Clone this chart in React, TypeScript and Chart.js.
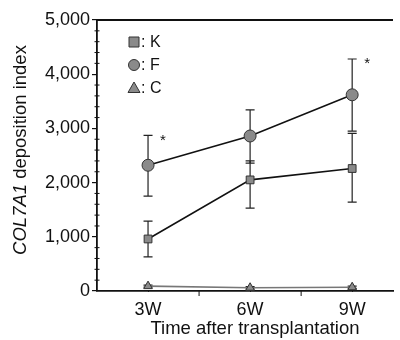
import React, { useEffect, useRef } from "react";
import { Chart, registerables } from "chart.js";

Chart.register(...registerables);

const weeks = [3, 6, 9];
const weekLabels = ["3W", "6W", "9W"];
const seriesNames = ["K", "F", "C"];
const kValues = [960, 2050, 2260];
const kUpper = [1290, 2400, 2910];
const kLower = [630, 1530, 1640];
const fValues = [2320, 2860, 3620];
const fUpper = [2870, 3340, 4280];
const fLower = [1750, 2360, 2950];
const cValues = [90, 60, 70];
const cUpper = [110, 80, 90];
const cLower = [70, 40, 50];
const significantWeeks = [3, 9];
const yTicks = [0, 1000, 2000, 3000, 4000, 5000];
const xTitle = "Time after transplantation";

const FONT = "'Liberation Sans', Arial, Helvetica, sans-serif";

export default function App() {
  const ref = useRef<HTMLCanvasElement | null>(null);
  useEffect(() => {
    if (!ref.current) return;
    const errs = [
      { up: kUpper, lo: kLower },
      { up: fUpper, lo: fLower },
      { up: cUpper, lo: cLower },
    ];
    const decor = {
      id: "decor",
      beforeDatasetsDraw(chart: any) {
        const { ctx, scales } = chart;
        const x = scales.x;
        const y = scales.y;
        ctx.save();
        ctx.strokeStyle = "#222";
        ctx.lineWidth = 1.2;
        errs.forEach((e) => {
          weeks.forEach((w, i) => {
            const px = x.getPixelForValue(w);
            const yu = y.getPixelForValue(e.up[i]);
            const yl = y.getPixelForValue(e.lo[i]);
            ctx.beginPath();
            ctx.moveTo(px, yu);
            ctx.lineTo(px, yl);
            ctx.moveTo(px - 4.5, yu);
            ctx.lineTo(px + 4.5, yu);
            ctx.moveTo(px - 4.5, yl);
            ctx.lineTo(px + 4.5, yl);
            ctx.stroke();
          });
        });
        ctx.restore();
      },
      afterDraw(chart: any) {
        const { ctx, chartArea, scales } = chart;
        const x = scales.x;
        const y = scales.y;
        ctx.save();
        ctx.strokeStyle = "#111";
        ctx.lineWidth = 1.8;
        ctx.beginPath();
        ctx.moveTo(chartArea.left, chartArea.top);
        ctx.lineTo(chartArea.right, chartArea.top);
        ctx.stroke();
        ctx.lineWidth = 1;
        for (let v = 0; v <= 5000; v += 200) {
          if (v % 1000 === 0) continue;
          const py = y.getPixelForValue(v);
          ctx.beginPath();
          ctx.moveTo(chartArea.left - 2.5, py);
          ctx.lineTo(chartArea.left + 2.5, py);
          ctx.stroke();
        }
        [4.5, 7.5].forEach((v) => {
          const px = x.getPixelForValue(v);
          ctx.beginPath();
          ctx.moveTo(px, chartArea.bottom);
          ctx.lineTo(px, chartArea.bottom + 5);
          ctx.stroke();
        });
        ctx.fillStyle = "#111";
        ctx.font = `15px ${FONT}`;
        ctx.textAlign = "center";
        ctx.textBaseline = "middle";
        significantWeeks.forEach((w) => {
          const i = weeks.indexOf(w);
          const px = x.getPixelForValue(w) + 15;
          const py = y.getPixelForValue(fUpper[i]) + 5;
          ctx.fillText("*", px, py);
        });
        // x title
        ctx.font = `18.5px ${FONT}`;
        ctx.fillText(xTitle, 255, 329);
        const styles = ["rect", "circle", "triangle"];
        ctx.font = `16px ${FONT}`;
        ctx.textAlign = "left";
        seriesNames.forEach((name, i) => {
          const mx = chartArea.left + 37;
          const my = chartArea.top + 22 + i * 23;
          ctx.fillStyle = "#8a8a8a";
          ctx.strokeStyle = "#333";
          ctx.lineWidth = 1;
          ctx.beginPath();
          if (styles[i] === "rect") {
            ctx.rect(mx - 5, my - 5, 10, 10);
          } else if (styles[i] === "circle") {
            ctx.arc(mx, my, 5.5, 0, Math.PI * 2);
          } else {
            ctx.moveTo(mx, my - 6);
            ctx.lineTo(mx + 6, my + 4.5);
            ctx.lineTo(mx - 6, my + 4.5);
            ctx.closePath();
          }
          ctx.fill();
          ctx.stroke();
          ctx.fillStyle = "#111";
          ctx.fillText(": " + name, mx + 7, my + 1);
        });
        ctx.save();
        ctx.translate(21, 150);
        ctx.rotate(-Math.PI / 2);
        ctx.textBaseline = "middle";
        const italic = `italic 18.5px ${FONT}`;
        const normal = `18.5px ${FONT}`;
        const p1 = "COL7A1";
        const p2 = " deposition index";
        ctx.font = italic;
        const w1 = ctx.measureText(p1).width;
        ctx.font = normal;
        const w2 = ctx.measureText(p2).width;
        const start = -(w1 + w2) / 2;
        ctx.fillStyle = "#111";
        ctx.font = italic;
        ctx.fillText(p1, start, 0);
        ctx.font = normal;
        ctx.fillText(p2, start + w1, 0);
        ctx.restore();
        ctx.restore();
      },
    };

    const mk = (label: string, data: number[], style: string, radius: number, color: string) => ({
      label,
      data: weeks.map((w, i) => ({ x: w, y: data[i] })),
      borderColor: color,
      borderWidth: 1.6,
      pointStyle: style,
      pointRadius: radius,
      pointBackgroundColor: "#8a8a8a",
      pointBorderColor: "#333",
      pointBorderWidth: 1,
      showLine: true,
      fill: false,
      tension: 0,
    });

    const chart = new Chart(ref.current, {
      type: "scatter",
      data: {
        datasets: [
          mk(seriesNames[2], cValues, "triangle", 5, "#777"),
          mk(seriesNames[0], kValues, "rect", 5.5, "#111"),
          mk(seriesNames[1], fValues, "circle", 6, "#111"),
        ],
      },
      plugins: [decor],
      options: {
        animation: false,
        responsive: false,
        layout: { padding: { top: 20, left: 0, right: 0, bottom: 0 } },
        plugins: {
          legend: { display: false },
          tooltip: { enabled: false },
        },
        scales: {
          x: {
            type: "linear",
            min: 1.5,
            max: 10.2,
            afterBuildTicks: (s: any) => {
              s.ticks = weeks.map((v) => ({ value: v }));
            },
            afterFit: (s: any) => {
              s.height = 49;
            },
            ticks: {
              color: "#111",
              font: { family: FONT, size: 18 },
              padding: 8,
              callback: (v: any) => weekLabels[weeks.indexOf(Number(v))] ?? "",
            },
            grid: { display: true, drawOnChartArea: false, tickLength: 0, color: "#111" },
            border: { display: true, color: "#111", width: 1.8 },
          },
          y: {
            min: 0,
            max: 5000,
            afterBuildTicks: (s: any) => {
              s.ticks = yTicks.map((v) => ({ value: v }));
            },
            afterFit: (s: any) => {
              s.width = 97;
            },
            ticks: {
              color: "#111",
              font: { family: FONT, size: 18 },
              padding: 2,
              callback: (v: any) => Number(v).toLocaleString("en-US"),
            },
            grid: { display: true, drawOnChartArea: false, tickLength: 5, color: "#111", lineWidth: 1.2 },
            border: { display: true, color: "#111", width: 1.8 },
          },
        },
      },
    } as any);
    return () => chart.destroy();
  }, []);
  return (
    <div style={{ position: "fixed", left: 0, top: 0, width: 400, height: 340, background: "#fff" }}>
      <canvas ref={ref} width={400} height={340} />
    </div>
  );
}
